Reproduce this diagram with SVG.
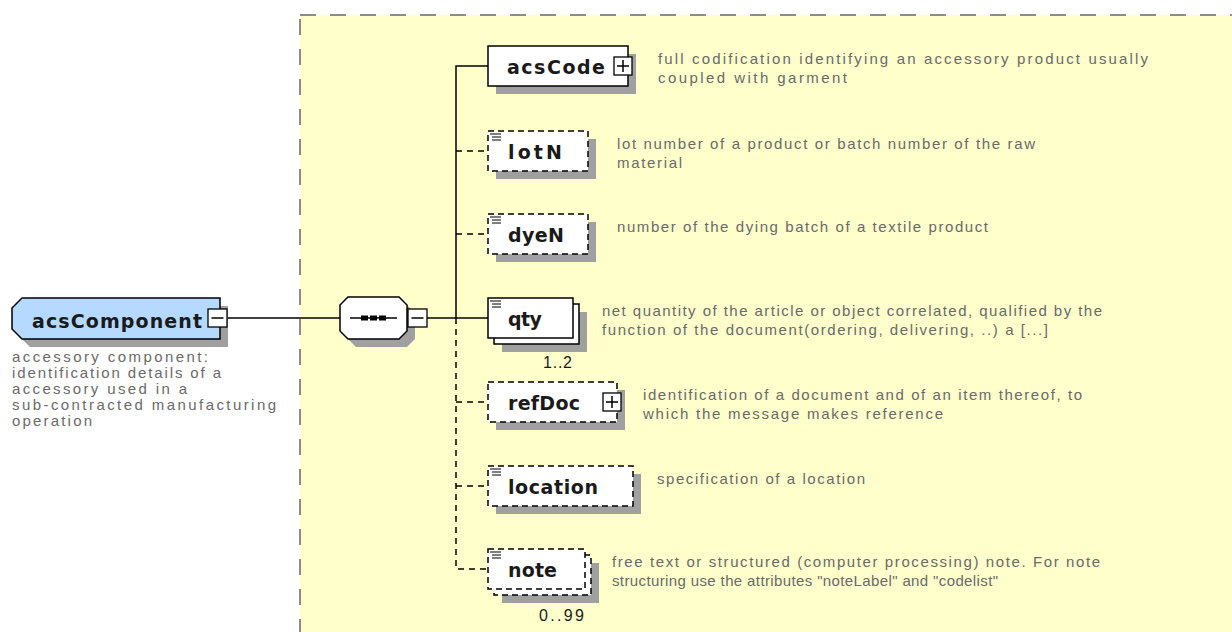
<svg xmlns="http://www.w3.org/2000/svg" width="1232" height="632" viewBox="0 0 1232 632">
<style>
.panel{fill:#FFFFCC;stroke:#8C8C8C;stroke-width:2;stroke-dasharray:16 14}
.shadow{fill:#A0A0A0}
.box{fill:#fff;stroke:#000;stroke-width:1.5}
.opt{stroke-dasharray:6 4}
.root{fill:#B5D9FF;stroke:#000;stroke-width:1.5}
.lbl{font-family:"DejaVu Sans",Verdana,sans-serif;font-weight:bold;font-size:19px;fill:#1A1A1A}
.desc{font-family:"Liberation Sans",Arial,sans-serif;font-size:15px;fill:#6A6A6A}
.mult{font-family:"Liberation Sans",Arial,sans-serif;font-size:16px;fill:#1A1A1A}
.conn{fill:none;stroke:#000;stroke-width:1.5}
.dash{stroke-dasharray:6 5}
.icon{fill:none;stroke:#000;stroke-width:1.2}
.btn{fill:#fff;stroke:#000;stroke-width:1.3}
.sign{stroke:#000;stroke-width:1.5}
</style>
<defs>
<g id="doc"><path class="icon" d="M0,0H11M2,3H11M2,6H11"/></g>
</defs>
<rect class="panel" x="300" y="15" width="960" height="640"/>

<g id="connectors">
<path class="conn" d="M227,318H340"/>
<path class="conn" d="M427,318H488"/>
<path class="conn" d="M488,66H456V318"/>
<path class="conn dash" d="M456,318V569H488"/>
<path class="conn dash" d="M456,151H488"/>
<path class="conn dash" d="M456,234H488"/>
<path class="conn dash" d="M456,402H488"/>
<path class="conn dash" d="M456,486H488"/>
</g>

<g id="acsComponent">
<polygon class="shadow" points="30,306 228,306 228,347 30,347 20,337 20,316"/>
<polygon class="root" points="22,298 220,298 220,339 22,339 12,329 12,308"/>
<text class="lbl" x="32" y="328" textLength="170" lengthAdjust="spacing">acsComponent</text>
<rect class="btn" x="208" y="309" width="19" height="18"/>
<path class="sign" d="M211.5,318H223.5"/>
<text class="desc" x="12" y="362" textLength="196" lengthAdjust="spacing">accessory component:</text>
<text class="desc" x="12" y="378" textLength="209" lengthAdjust="spacing">identification details of a</text>
<text class="desc" x="12" y="394" textLength="175" lengthAdjust="spacing">accessory used in a</text>
<text class="desc" x="12" y="410" textLength="264" lengthAdjust="spacing">sub-contracted manufacturing</text>
<text class="desc" x="12" y="426" textLength="80" lengthAdjust="spacing">operation</text>
</g>

<g id="sequence">
<polygon class="shadow" points="356,305 407,305 415,313 415,339 407,347 356,347 348,339 348,313"/>
<polygon class="box" points="348,297 399,297 407,305 407,331 399,339 348,339 340,331 340,305"/>
<path class="conn" d="M350,318H397"/>
<rect x="361" y="315.5" width="7" height="5" fill="#000"/>
<rect x="370" y="315.5" width="7" height="5" fill="#000"/>
<rect x="379" y="315.5" width="7" height="5" fill="#000"/>
<rect class="btn" x="408" y="309" width="19" height="18"/>
<path class="sign" d="M411.5,318H423.5"/>
</g>

<g id="acsCode">
<rect class="shadow" x="496" y="54" width="140" height="40"/>
<rect class="box" x="488" y="46" width="140" height="40"/>
<text class="lbl" x="507" y="74" textLength="98" lengthAdjust="spacing">acsCode</text>
<rect class="btn" x="614" y="57" width="18" height="18"/>
<path class="sign" d="M617,66H629M623,60V72"/>
<text class="desc" x="658" y="64" textLength="490" lengthAdjust="spacing">full codification identifying an accessory product usually</text>
<text class="desc" x="658" y="83" textLength="189" lengthAdjust="spacing">coupled with garment</text>
</g>

<g id="lotN">
<rect class="shadow" x="496" y="139" width="100" height="40"/>
<rect class="box opt" x="488" y="131" width="100" height="40"/>
<use href="#doc" x="490" y="134"/>
<text class="lbl" x="508" y="159" textLength="54" lengthAdjust="spacing">lotN</text>
<text class="desc" x="617" y="149" textLength="418" lengthAdjust="spacing">lot number of a product or batch number of the raw</text>
<text class="desc" x="617" y="168" textLength="65" lengthAdjust="spacing">material</text>
</g>

<g id="dyeN">
<rect class="shadow" x="496" y="222" width="100" height="40"/>
<rect class="box opt" x="488" y="214" width="100" height="40"/>
<use href="#doc" x="490" y="217"/>
<text class="lbl" x="508" y="242" textLength="56" lengthAdjust="spacing">dyeN</text>
<text class="desc" x="617" y="232" textLength="371" lengthAdjust="spacing">number of the dying batch of a textile product</text>
</g>

<g id="qty">
<rect class="shadow" x="502" y="312" width="85" height="40"/>
<rect class="box" x="494" y="304" width="85" height="40"/>
<rect class="box" x="488" y="298" width="85" height="40"/>
<use href="#doc" x="490" y="301"/>
<text class="lbl" x="508" y="326" textLength="34" lengthAdjust="spacing">qty</text>
<text class="mult" x="572" y="368" text-anchor="end" textLength="29" lengthAdjust="spacing">1..2</text>
<text class="desc" x="602" y="316" textLength="500" lengthAdjust="spacing">net quantity of the article or object correlated, qualified by the</text>
<text class="desc" x="602" y="335" textLength="446" lengthAdjust="spacing">function of the document(ordering, delivering, ..) a [...]</text>
</g>

<g id="refDoc">
<rect class="shadow" x="496" y="390" width="129" height="40"/>
<rect class="box opt" x="488" y="382" width="129" height="40"/>
<text class="lbl" x="508" y="410" textLength="72" lengthAdjust="spacing">refDoc</text>
<rect class="btn" x="603" y="393" width="18" height="18"/>
<path class="sign" d="M606,402H618M612,396V408"/>
<text class="desc" x="643" y="400" textLength="439" lengthAdjust="spacing">identification of a document and of an item thereof, to</text>
<text class="desc" x="643" y="419" textLength="300" lengthAdjust="spacing">which the message makes reference</text>
</g>

<g id="location">
<rect class="shadow" x="496" y="474" width="145" height="40"/>
<rect class="box opt" x="488" y="466" width="145" height="40"/>
<use href="#doc" x="490" y="469"/>
<text class="lbl" x="508" y="494" textLength="90" lengthAdjust="spacing">location</text>
<text class="desc" x="657" y="484" textLength="208" lengthAdjust="spacing">specification of a location</text>
</g>

<g id="note">
<rect class="shadow" x="502" y="563" width="97" height="40"/>
<rect class="box opt" x="494" y="555" width="97" height="40"/>
<rect class="box opt" x="488" y="549" width="97" height="40"/>
<use href="#doc" x="490" y="552"/>
<text class="lbl" x="508" y="577" textLength="49" lengthAdjust="spacing">note</text>
<text class="mult" x="584" y="621" text-anchor="end" textLength="45" lengthAdjust="spacing">0..99</text>
<text class="desc" x="612" y="567" textLength="488" lengthAdjust="spacing">free text or structured (computer processing) note. For note</text>
<text class="desc" x="612" y="586" textLength="386" lengthAdjust="spacing">structuring use the attributes "noteLabel" and "codelist"</text>
</g>
</svg>
